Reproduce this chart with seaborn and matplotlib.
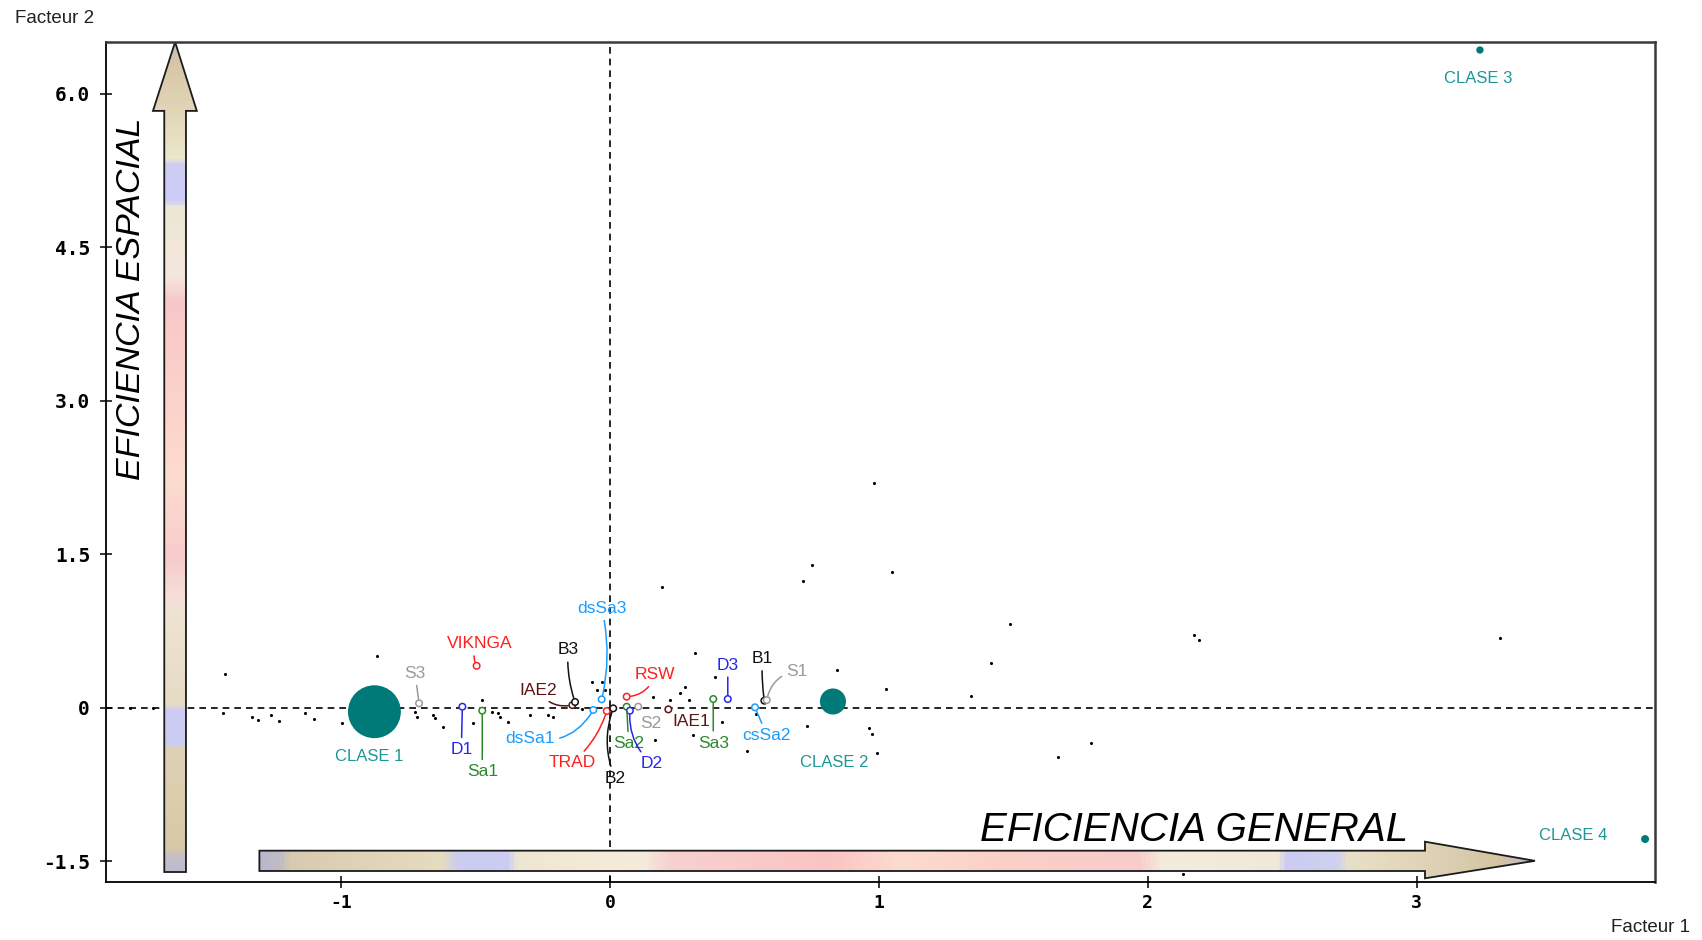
import numpy as np
import pandas as pd
import matplotlib
matplotlib.use("Agg")
import matplotlib.pyplot as plt
import seaborn as sns
from matplotlib import font_manager
from matplotlib.colors import LinearSegmentedColormap
from matplotlib.patches import Polygon

# ---------------------------------------------------------------- data
# active / supplementary variables projected on the first factorial plane
var_names = ["S3", "D1", "Sa1", "VIKNGA", "IAE2", "B3", "dsSa3", "dsSa1", "TRAD", "B2",
             "RSW", "Sa2", "D2", "S2", "IAE1", "Sa3", "D3", "B1", "S1", "csSa2"]
var_f1 = [-0.710, -0.549, -0.475, -0.496, -0.140, -0.130, -0.031, -0.062, -0.012, 0.012,
          0.062, 0.062, 0.074, 0.105, 0.217, 0.384, 0.438, 0.574, 0.583, 0.539]
var_f2 = [0.042, 0.009, -0.030, 0.409, 0.025, 0.055, 0.081, -0.023, -0.033, -0.007,
          0.107, 0.009, -0.030, 0.009, -0.017, 0.084, 0.084, 0.068, 0.074, 0.003]
var_group = ["S", "D", "Sa", "ref", "IAE", "B", "ds", "ds", "ref", "B",
             "ref", "Sa", "D", "S", "IAE", "Sa", "D", "B", "S", "ds"]

# cluster centres and their relative weight
class_names = ["CLASE 1", "CLASE 2", "CLASE 3", "CLASE 4"]
class_f1 = [-0.876, 0.829, 3.235, 3.849]
class_f2 = [-0.040, 0.060, 6.430, -1.285]
class_weight = [58, 14, 1, 1.2]

# individuals
dots_f1 = [0.981, 0.751, 0.719, 1.050, 0.192, 1.486, 1.418, 2.170, 2.190, 3.310,
           1.789, 1.667, 1.344, 1.026, 0.962, 0.973, 0.994, 0.845, 2.130, 0.316,
           0.260, 0.280, 0.295, 0.390, 0.415, 0.310, 0.510, 0.731, 0.543, 0.167,
           0.161, 0.223, -0.868, -1.430, -1.785, -1.700, -1.440, -1.330, -1.310, -1.260,
           -1.230, -1.134, -1.100, -0.998, -0.725, -0.716, -0.657, -0.651, -0.620, -0.477,
           -0.508, -0.440, -0.415, -0.409, -0.378, -0.297, -0.229, -0.211, -0.105, -0.066,
           -0.050, -0.031, -0.020]
dots_f2 = [2.196, 1.390, 1.240, 1.330, 1.180, 0.820, 0.440, 0.710, 0.660, 0.680,
           -0.350, -0.480, 0.110, 0.180, -0.200, -0.260, -0.440, 0.370, -1.630, 0.530,
           0.140, 0.200, 0.074, 0.300, -0.140, -0.270, -0.420, -0.180, -0.060, -0.320,
           0.107, 0.070, 0.500, 0.330, 0.000, 0.000, -0.050, -0.090, -0.120, -0.070,
           -0.130, -0.050, -0.110, -0.150, -0.040, -0.090, -0.070, -0.105, -0.190, 0.075,
           -0.150, -0.040, -0.056, -0.090, -0.140, -0.070, -0.070, -0.090, -0.010, 0.250,
           0.170, 0.250, 0.170]

x_ticks = [-1, 0, 1, 2, 3]
x_tick_labels = ["-1", "0", "1", "2", "3"]
y_ticks = [-1.5, 0, 1.5, 3.0, 4.5, 6.0]
y_tick_labels = ["-1.5", "0", "1.5", "3.0", "4.5", "6.0"]

# ---------------------------------------------------------------- style
group_colors = {"S": "#9a9a9a", "D": "#2626ee", "Sa": "#2a8a2a", "ref": "#ff1f1f",
                "IAE": "#5a1414", "B": "#111111", "ds": "#1a9cff"}
teal = "#007a78"
teal_text = "#1f9696"

# label offsets (pixels) and leader curvature for each variable
label_offsets = {"S3": (-4, 30), "D1": (-1, -43), "Sa1": (0, -61), "VIKNGA": (3, 22),
                 "IAE2": (-34, 15), "B3": (-7, 52), "dsSa3": (0, 91), "dsSa1": (-63, -29),
                 "TRAD": (-35, -52), "B2": (2, -70), "RSW": (28, 22), "Sa2": (2, -37),
                 "D2": (22, -53), "S2": (13, -17), "IAE1": (23, -12), "Sa3": (0, -44),
                 "D3": (0, 34), "B1": (-2, 42), "S1": (30, 29), "csSa2": (12, -28)}
leader_rad = {"VIKNGA": 0.35, "IAE2": 0.35, "B3": 0.1, "dsSa3": -0.12, "dsSa1": 0.35,
              "TRAD": 0.15, "B2": -0.2, "RSW": -0.35, "D2": -0.25, "S1": 0.35, "B1": 0.05}
no_leader = {"IAE1", "S2"}

sns.set_theme(style="white")
names = {f.name for f in font_manager.fontManager.ttflist}
narrow = "Liberation Sans Narrow" if "Liberation Sans Narrow" in names else None
plt.rcParams["font.family"] = ["Liberation Sans", "DejaVu Sans"]

fig = plt.figure(figsize=(17.02, 9.40), dpi=100)
fig.patch.set_facecolor("white")
ax = fig.add_axes([0.0623, 0.0617, 0.9101, 0.8936])
ax.set_facecolor("white")

XLIM = (-1.874, 3.886)
YLIM = (-1.705, 6.508)

# origin cross
ax.axhline(0, color="black", lw=1.2, ls=(0, (4, 3)), zorder=1)
ax.axvline(0, color="black", lw=1.2, ls=(0, (4, 3)), zorder=1)


# ---------------------------------------------------------------- decorative axes arrows
def gradient_arrow(ax, verts, stops, vertical):
    cmap = LinearSegmentedColormap.from_list("arrow", stops)
    grad = np.linspace(0, 1, 800)
    img = grad[:, None] if vertical else grad[None, :]
    xs = [v[0] for v in verts]
    ys = [v[1] for v in verts]
    im = ax.imshow(img, cmap=cmap, extent=(min(xs), max(xs), min(ys), max(ys)),
                   origin="lower", aspect="auto", transform=ax.transAxes,
                   interpolation="bilinear", zorder=2)
    poly = Polygon(verts, closed=True, transform=ax.transAxes, facecolor="none",
                   edgecolor="#1a1a1a", lw=1.3, zorder=2.1)
    ax.add_patch(poly)
    im.set_clip_path(poly)


v_stops = [(0.0, "#bcbcd0"), (0.017, "#c4c0c8"), (0.026, "#d8c8a8"), (0.148, "#dfd2b4"),
           (0.153, "#ccccf0"), (0.193, "#ccccf4"), (0.199, "#e6dcc4"), (0.304, "#ece4d0"),
           (0.33, "#f6e0d8"), (0.376, "#f8cccc"), (0.472, "#fcdcd0"), (0.545, "#fcd4cc"),
           (0.689, "#f8c8c8"), (0.719, "#f4e8dc"), (0.804, "#ece6d4"), (0.810, "#ccccf8"),
           (0.854, "#ccccf4"), (0.861, "#ece6cc"), (0.918, "#e2d6b8"), (0.978, "#d6c6a6"),
           (1.0, "#c0c0c0")]
h_stops = [(0.0, "#b8b8cc"), (0.015, "#c0bcc4"), (0.022, "#d8cab0"), (0.142, "#e6dcc0"),
           (0.154, "#ccccf0"), (0.193, "#ccccf4"), (0.201, "#efe6d2"), (0.299, "#f6ecdc"),
           (0.322, "#f8d0d0"), (0.447, "#fbc4c4"), (0.502, "#fcdcd0"), (0.581, "#fbd0c8"),
           (0.690, "#f8cccc"), (0.710, "#f4ecdc"), (0.800, "#f0e8d8"), (0.808, "#ccccf4"),
           (0.847, "#d0d0f0"), (0.855, "#e8e0c8"), (0.914, "#e0d4b8"), (0.973, "#d4c4a4"),
           (0.988, "#c8c0b8"), (1.0, "#b0b0b0")]

v_arrow = [(0.0376, 0.0119), (0.0516, 0.0119), (0.0516, 0.918), (0.0586, 0.918),
           (0.0446, 1.0), (0.0303, 0.918), (0.0376, 0.918)]
h_arrow = [(0.099, 0.0131), (0.8515, 0.0131), (0.8515, 0.0044), (0.9225, 0.0252),
           (0.8515, 0.048), (0.8515, 0.0373), (0.099, 0.0373)]
gradient_arrow(ax, v_arrow, v_stops, vertical=True)
gradient_arrow(ax, h_arrow, h_stops, vertical=False)

if narrow:
    v_family, v_size = [narrow, "DejaVu Sans"], 30
else:
    v_family, v_size = ["Liberation Sans", "DejaVu Sans"], 24.5
ax.text(0.0165, 0.694, "EFICIENCIA ESPACIAL", transform=ax.transAxes, rotation=90,
        ha="center", va="center", fontsize=v_size, style="italic", family=v_family,
        color="black", zorder=3)
ax.text(0.7024, 0.0619, "EFICIENCIA GENERAL", transform=ax.transAxes,
        ha="center", va="center", fontsize=29, style="italic", color="black", zorder=3)

# ---------------------------------------------------------------- points
dots = pd.DataFrame({"f1": dots_f1, "f2": dots_f2})
sns.scatterplot(data=dots, x="f1", y="f2", color="black", s=5, linewidth=0,
                ax=ax, legend=False, zorder=3)

classes = pd.DataFrame({"name": class_names, "f1": class_f1, "f2": class_f2,
                        "weight": class_weight})
sns.scatterplot(data=classes, x="f1", y="f2", size="weight", sizes=(28, 1450),
                color=teal, linewidth=0, ax=ax, legend=False, zorder=4)

class_offsets = [(-5, -45), (1, -61), (-2, -29), (-72, 4)]
for name, x, y, off in zip(class_names, class_f1, class_f2, class_offsets):
    ax.annotate(name, (x, y), xytext=off, textcoords="offset pixels", ha="center",
                va="center", fontsize=12, color=teal_text, zorder=5)

variables = pd.DataFrame({"name": var_names, "f1": var_f1, "f2": var_f2, "group": var_group})
sns.scatterplot(data=variables, x="f1", y="f2", hue="group", palette=group_colors,
                s=22, linewidth=1.1, ax=ax, legend=False, zorder=6)
pts = ax.collections[-1]
pts.set_edgecolors(pts.get_facecolors())
pts.set_facecolors("white")

for name, x, y, g in zip(var_names, var_f1, var_f2, var_group):
    c = group_colors[g]
    arrowprops = None
    if name not in no_leader:
        arrowprops = dict(arrowstyle="-", color=c, lw=1.1, shrinkA=1, shrinkB=3,
                          connectionstyle=f"arc3,rad={leader_rad.get(name, 0.0)}")
    ax.annotate(name, (x, y), xytext=label_offsets[name], textcoords="offset pixels",
                ha="center", va="center", fontsize=12.5, color=c, zorder=7,
                arrowprops=arrowprops)

# ---------------------------------------------------------------- axes
ax.set_xlim(*XLIM)
ax.set_ylim(*YLIM)
ax.set_xticks(x_ticks)
ax.set_xticklabels(x_tick_labels)
ax.set_yticks(y_ticks)
ax.set_yticklabels(y_tick_labels)
ax.set_xlabel("")
ax.set_ylabel("")
ax.tick_params(axis="both", direction="inout", length=9, width=1.1, color="black",
               bottom=True, left=True)
ax.tick_params(axis="x", labelsize=13, pad=4)
ax.tick_params(axis="y", labelsize=14, pad=7)
for lab in ax.get_xticklabels() + ax.get_yticklabels():
    lab.set_family(["DejaVu Sans Mono"])
    lab.set_fontweight("bold")
    lab.set_color("black")
for side in ["left", "bottom"]:
    ax.spines[side].set_color("black")
    ax.spines[side].set_linewidth(1.3)
for side in ["top", "right"]:
    ax.spines[side].set_color("#3a3a3a")
    ax.spines[side].set_linewidth(1.8)
ax.grid(False)

fig.text(0.0088, 0.9798, "Facteur 2", ha="left", va="center", fontsize=13.5, color="#222222")
fig.text(0.993, 0.0128, "Facteur 1", ha="right", va="center", fontsize=13.5, color="#222222")

fig.savefig("out.png", dpi=100, facecolor="white")
